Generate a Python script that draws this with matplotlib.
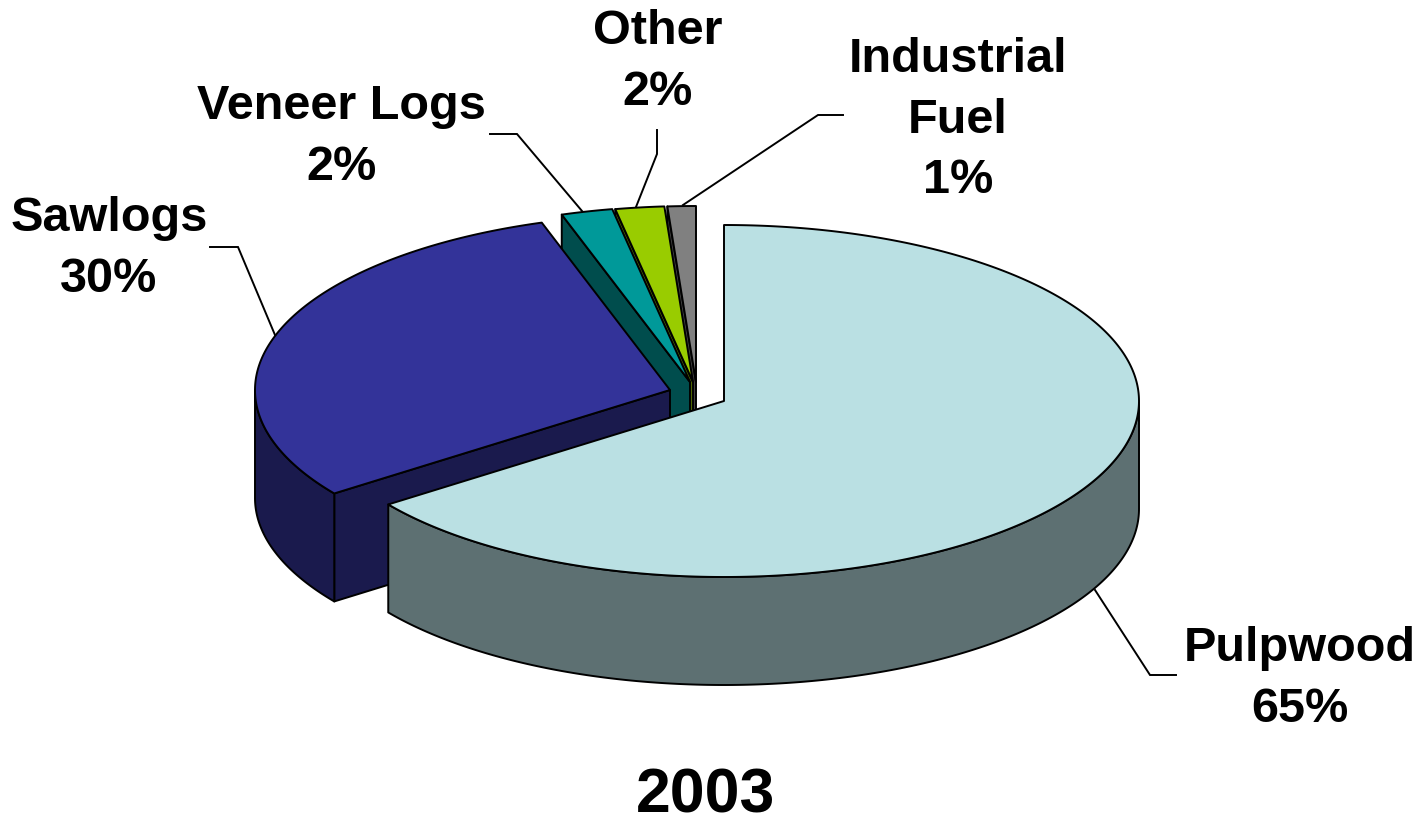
import numpy as np
import matplotlib
matplotlib.use("Agg")
import matplotlib.pyplot as plt
from matplotlib.patches import Polygon

plt.rcParams['font.family'] = ['Liberation Sans', 'DejaVu Sans']

# data, clockwise from 12 o'clock (labels show them rounded)
categories = ["Pulpwood", "Sawlogs", "Veneer Logs", "Other", "Industrial\nFuel"]
shares = [65, 30, 2, 1.9, 1.1]
year = "2003"

top_colors = ["#BAE0E3", "#333399", "#009999", "#99CC00", "#808080"]
side_colors = ["#5D7072", "#1A1A4D", "#004D4D", "#4D6600", "#404040"]

# pie geometry in pixels, each slice has its own exploded centre
centers = [(724, 401), (670, 390), (690, 382), (693, 382), (696, 382)]
rx, ry = 415, 176
depth = 108
edge_lw = 1.4

label_pos = [(1300, 679), (109, 249), (341, 137), (658, 62), (958, 120)]
leaders = [
    [(1095, 590), (1150, 675), (1176, 675)],
    [(275, 335), (238, 247), (210, 247)],
    [(490, 134), (517, 134), (582, 211)],
    [(657, 130), (657, 154), (636, 207)],
    [(843, 115), (818, 115), (683, 205)],
]


def arc(center, t0, t1):
    t = np.radians(np.linspace(t0, t1, max(int(abs(t1 - t0)) * 2, 2)))
    return np.column_stack([center[0] + rx * np.sin(t), center[1] - ry * np.cos(t)])


def add_poly(ax, pts, color):
    ax.add_patch(Polygon(pts, closed=True, facecolor=color, edgecolor="black",
                         linewidth=edge_lw, joinstyle="round"))


def radial_wall(ax, center, t, color):
    rim = arc(center, t, t)[0]
    pts = [center, rim, (rim[0], rim[1] + depth), (center[0], center[1] + depth)]
    add_poly(ax, pts, color)


def outer_wall(ax, center, t0, t1, color):
    # only the part of the rim facing the viewer (90..270 deg) shows
    t0, t1 = max(t0, 90), min(t1, 270)
    if t1 <= t0:
        return
    top = arc(center, t0, t1)
    bottom = top[::-1] + [0, depth]
    add_poly(ax, np.vstack([top, bottom]), color)


fig = plt.figure(figsize=(14.27, 8.17), dpi=100)
ax = fig.add_axes([0, 0, 1, 1])
ax.set_xlim(0, 1427)
ax.set_ylim(817, 0)
ax.set_axis_off()

edges = np.concatenate([[0], np.cumsum(shares)]) * 3.6

# paint back to front: the small slices first, pulpwood last
for i in [4, 3, 2, 1, 0]:
    c = centers[i]
    t0, t1 = edges[i], edges[i + 1]
    if t0 > 180:
        radial_wall(ax, c, t0, side_colors[i])
    if t1 < 180:
        radial_wall(ax, c, t1, side_colors[i])
    outer_wall(ax, c, t0, t1, side_colors[i])
    add_poly(ax, np.vstack([[c], arc(c, t0, t1)]), top_colors[i])

for pts in leaders:
    xs, ys = zip(*pts)
    ax.plot(xs, ys, color="black", lw=edge_lw, solid_joinstyle="miter")

for name, share, pos in zip(categories, shares, label_pos):
    ax.text(pos[0], pos[1], f"{name}\n{round(share)}%", ha="center", va="center",
            fontsize=35, fontweight="bold", linespacing=1.45, color="black")

ax.text(705, 796, year, ha="center", va="center", fontsize=45, fontweight="bold")

fig.savefig("out.png", dpi=100, facecolor="white")
